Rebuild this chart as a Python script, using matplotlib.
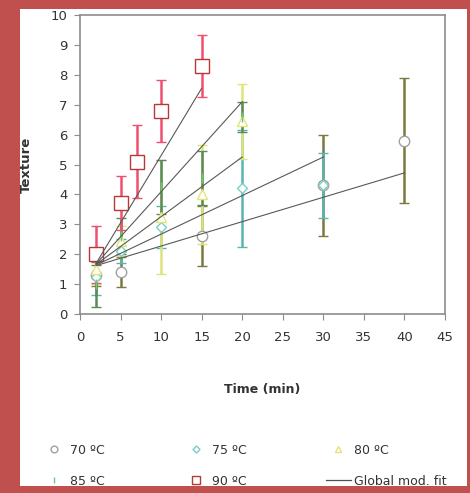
import numpy as np
import matplotlib as mpl
mpl.use('Agg')
import matplotlib.pyplot as plt
from matplotlib.lines import Line2D
from matplotlib.patches import Rectangle

# measured texture vs time, one series per temperature
t70 = [2, 5, 15, 30, 40]
y70 = [1.3, 1.4, 2.6, 4.3, 5.8]
e70 = [0.35, 0.5, 1.0, 1.7, 2.1]

t75 = [2, 5, 10, 20, 30]
y75 = [1.25, 2.1, 2.9, 4.2, 4.3]
e75 = [0.6, 0.4, 0.7, 1.95, 1.1]

t80 = [2, 5, 10, 15, 20]
y80 = [1.5, 2.45, 3.25, 4.0, 6.45]
e80 = [0.5, 0.5, 1.9, 1.65, 1.25]

t85 = [2, 5, 10, 15, 20]
y85 = [1.0, 2.6, 4.25, 4.55, 6.6]
e85 = [0.75, 0.6, 0.9, 0.9, 0.5]

t90 = [2, 5, 7, 10, 15]
y90 = [2.0, 3.7, 5.1, 6.8, 8.3]
e90 = [0.95, 0.9, 1.22, 1.04, 1.03]

# global model fit lines (start / end)
fit_t = [[2, 40], [2, 30], [2, 20], [2, 20], [2, 15]]
fit_y = [[1.62, 4.72], [1.64, 5.25], [1.66, 5.25], [1.68, 7.1], [1.7, 7.55]]

labels = ['70 ºC', '75 ºC', '80 ºC', '85 ºC', '90 ºC']
xticks = list(range(0, 50, 5))
yticks = list(range(0, 11))

fig = plt.figure(figsize=(4.7, 4.93), dpi=100, facecolor='#C0504D')
fig.patches.append(Rectangle((20/470, 1-486/493), 447/470, 477/493,
                             transform=fig.transFigure, facecolor='white',
                             edgecolor='none', zorder=-5))

ax = fig.add_axes([80/470, 1-314/493, 365/470, 299/493])
ax.set_zorder(2)

series = [
    (t70, y70, e70, 'o', 'white', '#A0A0A0', '#7A7A40', 7.5),
    (t75, y75, e75, 'D', 'white', '#78D0C4', '#5AB4B0', 5.5),
    (t80, y80, e80, '^', 'white', '#E4E47A', '#DCE47A', 6.5),
    (t85, y85, e85, '|', '#70C870', '#70C870', '#5A8A5A', 7),
    (t90, y90, e90, 's', 'white', '#B83838', '#F05070', 9.5),
]

handles = []
for (tx, ty, te, mk, fc, mc, ec, ms), lab in zip(series, labels):
    eb = ax.errorbar(tx, ty, yerr=te, fmt=mk, ms=ms, mfc=fc, mec=mc, mew=1,
                     ecolor=ec, elinewidth=1.8, capsize=3.5, capthick=1,
                     zorder=3)
    for cap in eb[1]:
        cap.set_color('#484848')
    handles.append(Line2D([], [], ls='none', marker=mk, ms=ms*0.65, mfc=fc,
                          mec=mc, mew=1, label=lab))

for ft, fy in zip(fit_t, fit_y):
    ax.plot(ft, fy, color='#585858', lw=0.8, zorder=4)
handles.append(Line2D([], [], color='#505050', lw=0.9, label='Global mod. fit'))

ax.set_xlim(0, 45)
ax.set_ylim(0, 10)
ax.set_xticks(xticks)
ax.set_yticks(yticks)
for s in ax.spines.values():
    s.set_color('#8C8C8C')
    s.set_linewidth(1.2)
ax.tick_params(direction='out', length=4, color='#8C8C8C', labelsize=9.5,
               labelcolor='#333333', pad=5)
ax.tick_params(axis='x', pad=8)

ax.set_xlabel('Time (min)', fontsize=9, fontweight='bold', color='#333333')
ax.set_ylabel('Texture', fontsize=9.5, fontweight='bold', color='#333333')
ax.xaxis.set_label_coords(0.5, -0.23)
ax.yaxis.set_label_coords(-0.13, 0.5)

order = [0, 3, 1, 4, 2, 5]
fig.legend([handles[i] for i in order], [handles[i].get_label() for i in order],
           ncol=3, loc='lower left', bbox_to_anchor=(30/470, -6/493),
           frameon=False, fontsize=9, labelspacing=1.45, handlelength=2.0,
           handletextpad=0.3, columnspacing=6.3, labelcolor='#333333')

fig.savefig('out.png', dpi=100, facecolor=fig.get_facecolor())
